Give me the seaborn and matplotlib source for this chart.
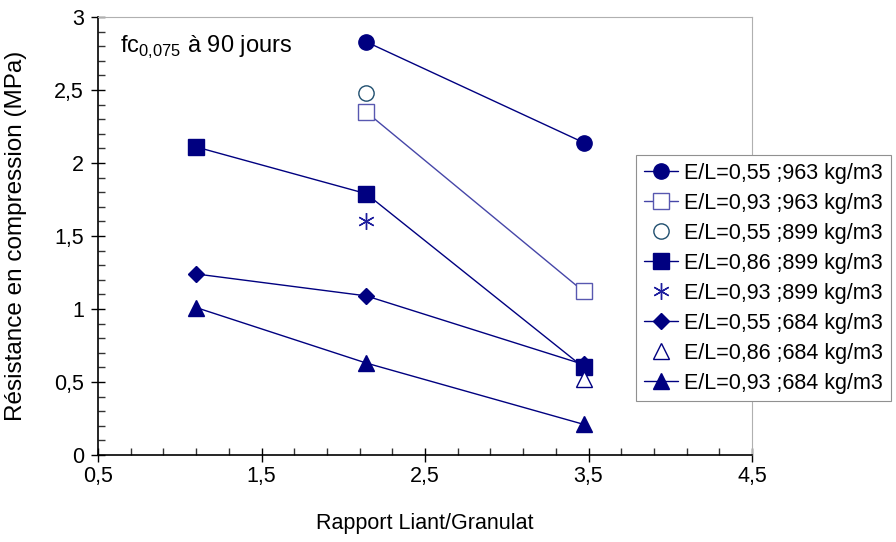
import matplotlib
matplotlib.use("Agg")
import matplotlib.pyplot as plt
from matplotlib.ticker import MultipleLocator, FuncFormatter
import seaborn as sns
import pandas as pd

# data
x_three = [1.1, 2.14, 3.47]
x_two = [2.14, 3.47]
x_one = [2.14]
x_last = [3.47]

y_055_963 = [2.83, 2.14]
y_093_963 = [2.35, 1.12]
y_055_899 = [2.48]
y_086_899 = [2.11, 1.79, 0.60]
y_093_899 = [1.60]
y_055_684 = [1.24, 1.09, 0.62]
y_086_684 = [0.52]
y_093_684 = [1.01, 0.63, 0.21]

labels = ["E/L=0,55 ;963 kg/m3", "E/L=0,93 ;963 kg/m3", "E/L=0,55 ;899 kg/m3",
          "E/L=0,86 ;899 kg/m3", "E/L=0,93 ;899 kg/m3", "E/L=0,55 ;684 kg/m3",
          "E/L=0,86 ;684 kg/m3", "E/L=0,93 ;684 kg/m3"]


def main():
    sns.set_style("ticks")
    plt.rcParams["font.family"] = ["Liberation Sans", "DejaVu Sans"]
    plt.rcParams["mathtext.fontset"] = "custom"
    plt.rcParams["mathtext.rm"] = "Liberation Sans"
    plt.rcParams["text.color"] = "black"
    plt.rcParams["axes.labelcolor"] = "black"
    plt.rcParams["xtick.labelcolor"] = "black"
    plt.rcParams["ytick.labelcolor"] = "black"

    navy = "#000080"
    series = [
        (x_two, y_055_963, dict(marker="o", ms=11, color=navy, mfc=navy, mec=navy, ls="-")),
        (x_two, y_093_963, dict(marker="s", ms=11, color="#4646A8", mfc="white", mec="#5858B0", ls="-")),
        (x_one, y_055_899, dict(marker="o", ms=11, color="#1F4E6E", mfc="white", mec="#1F4E6E", ls="none")),
        (x_three, y_086_899, dict(marker="s", ms=11.5, color=navy, mfc=navy, mec=navy, ls="-")),
        (x_one, y_093_899, dict(marker=(6, 2, 0), ms=12, color="#1E1E9E", mec="#1E1E9E", ls="none")),
        (x_three, y_055_684, dict(marker="D", ms=8, color=navy, mfc=navy, mec=navy, ls="-")),
        (x_last, y_086_684, dict(marker="^", ms=11, color=navy, mfc="white", mec=navy, ls="none")),
        (x_three, y_093_684, dict(marker="^", ms=12, color=navy, mfc=navy, mec=navy, ls="-")),
    ]

    fig = plt.figure(figsize=(8.96, 5.42), dpi=100)
    ax = fig.add_axes([98 / 896, 87 / 542, 654 / 896, 438 / 542])
    for (xs, ys, kw), label in zip(series, labels):
        df = pd.DataFrame({"x": xs, "y": ys})
        sns.lineplot(x="x", y="y", data=df, ax=ax, label=label, lw=1.0, mew=1.0,
                     linestyle=kw.pop("ls"), **kw)

    ax.set_xlim(0.5, 4.5)
    ax.set_ylim(0, 3)
    ax.xaxis.set_major_locator(MultipleLocator(1, offset=0.5))
    ax.xaxis.set_minor_locator(MultipleLocator(0.2, offset=0.1))
    ax.yaxis.set_major_locator(MultipleLocator(0.5))
    ax.yaxis.set_minor_locator(MultipleLocator(0.1))
    fmt = FuncFormatter(lambda v, p: "{:g}".format(round(v, 3)).replace(".", ","))
    ax.xaxis.set_major_formatter(fmt)
    ax.yaxis.set_major_formatter(fmt)
    ax.tick_params(axis="both", which="major", direction="inout", length=10, width=1,
                   labelsize=15.5, color="black", labelcolor="black")
    ax.tick_params(axis="both", which="minor", direction="in", length=5, width=1, color="#333333")
    ax.tick_params(axis="x", which="major", pad=3)
    ax.tick_params(axis="y", which="major", pad=5)
    for s in ["left", "bottom"]:
        ax.spines[s].set_color("black")
        ax.spines[s].set_linewidth(1.2)
    for s in ["top", "right"]:
        ax.spines[s].set_color("#B0B0B0")
        ax.spines[s].set_linewidth(0.8)

    ax.set_xlabel("Rapport Liant/Granulat", fontsize=15.5)
    ax.set_ylabel("Résistance en compression (MPa)", fontsize=17.5)
    ax.xaxis.set_label_coords(0.5, -0.133)
    ax.yaxis.set_label_coords(-0.108, 0.5)

    ax.text(0.034, 0.93, r"fc$_{\mathregular{0{,}075}}$ à 90 jours", transform=ax.transAxes,
            fontsize=17, va="center", ha="left")

    leg = ax.legend(loc="upper left", bbox_to_anchor=(636 / 896, 1 - 155 / 542),
                    bbox_transform=fig.transFigure, fontsize=15.5, frameon=True,
                    fancybox=False, edgecolor="#909090", framealpha=1,
                    handlelength=1.6, handletextpad=0.3, labelspacing=0.42,
                    borderpad=0.35, borderaxespad=0)
    leg.get_frame().set_linewidth(0.8)
    for t in leg.get_texts():
        t.set_color("black")
    leg.set_clip_on(False)

    fig.savefig("out.png", dpi=100)


if __name__ == "__main__":
    main()
